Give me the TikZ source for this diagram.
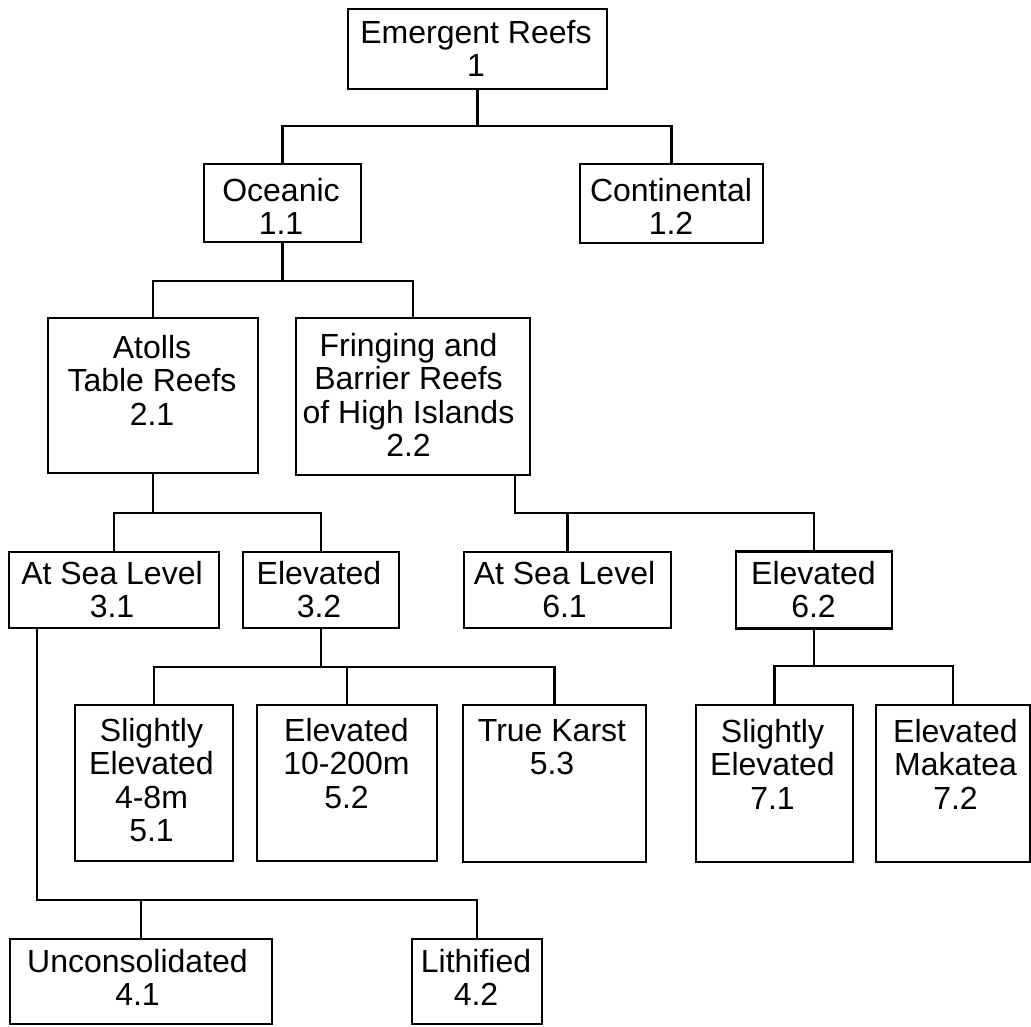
\documentclass[tikz,border=0pt]{standalone}
\usepackage{fontspec}
\setmainfont{Liberation Sans}
\usetikzlibrary{calc}
\begin{document}
\begin{tikzpicture}[x=1pt,y=-1pt,
  box/.style={draw=black, line width=2.6pt, fill=white, inner sep=0pt},
  txt/.style={font=\fontsize{32}{33.5}\selectfont, align=center, inner sep=0pt, anchor=north},
  conn/.style={draw=black, line width=2.6pt, line join=miter}]
\useasboundingbox (0,0) rectangle (1031,1026);
% boxes
\node[box, minimum width=259pt, minimum height=80pt] (r1) at (477.5,49) {};
\node[box, minimum width=157pt, minimum height=78pt] (oce) at (282.5,203) {};
\node[box, minimum width=183pt, minimum height=79pt] (cont) at (671.5,203.5) {};
\node[box, minimum width=210pt, minimum height=155pt] (at21) at (153,395.5) {};
\node[box, minimum width=234pt, minimum height=157pt] (fr22) at (413,396.5) {};
\node[box, minimum width=210pt, minimum height=76pt] (s31) at (114,590) {};
\node[box, minimum width=156pt, minimum height=76pt] (e32) at (321,590) {};
\node[box, minimum width=207pt, minimum height=76pt] (s61) at (567.5,590) {};
\node[box, minimum width=156pt, minimum height=77pt] (e62) at (814,590) {};
\node[box, minimum width=158pt, minimum height=156pt] (s51) at (154,783) {};
\node[box, minimum width=180pt, minimum height=156pt] (e52) at (347,783) {};
\node[box, minimum width=183pt, minimum height=157pt] (k53) at (554.5,783.5) {};
\node[box, minimum width=157pt, minimum height=157pt] (s71) at (774.5,783.5) {};
\node[box, minimum width=154pt, minimum height=157pt] (m72) at (953,783.5) {};
\node[box, minimum width=262pt, minimum height=85pt] (u41) at (141,981.5) {};
\node[box, minimum width=130pt, minimum height=85pt] (l42) at (477,981.5) {};
% texts
\node[txt] (r1t) at (476,20) {Emergent Reefs\\1};
\node[txt] (ocet) at (281,178) {Oceanic\\1.1};
\node[txt] (contt) at (671,178) {Continental\\1.2};
\node[txt] (at21t) at (152,335) {Atolls\\Table Reefs\\2.1};
\node[txt] (fr22t) at (408.5,333) {Fringing and\\Barrier Reefs\\of High Islands\\2.2};
\node[txt] (s31t) at (112,561) {At Sea Level\\3.1};
\node[txt] (e32t) at (319,561) {Elevated\\3.2};
\node[txt] (s61t) at (564.5,561) {At Sea Level\\6.1};
\node[txt] (e62t) at (813.5,561) {Elevated\\6.2};
\node[txt] (s51t) at (151.5,718) {Slightly\\Elevated\\4-8m\\5.1};
\node[txt] (e52t) at (346.5,718) {Elevated\\10-200m\\5.2};
\node[txt] (k53t) at (552,719) {True Karst\\5.3};
\node[txt] (s71t) at (772.5,719) {Slightly\\Elevated\\7.1};
\node[txt] (m72t) at (955.5,719) {Elevated\\Makatea\\7.2};
\node[txt] (u41t) at (137.5,949) {Unconsolidated\\4.1};
\node[txt] (l42t) at (476,949) {Lithified\\4.2};
% junctions
\coordinate (j1) at (477.5,126);
\coordinate (j2) at (282.5,281);
\coordinate (j3) at (153,513);
\coordinate (j6) at (515,513);
\coordinate (j5) at (321,667);
\coordinate (j7) at (814,666);
\coordinate (j4) at (37,900);
% connectors
\draw[conn] (r1.south) -- (j1);
\draw[conn] (oce.north) |- (j1) -| (cont.north);
\draw[conn] (oce.south) -- (j2);
\draw[conn] (at21.north) |- (j2) -| (fr22.north);
\draw[conn] (at21.south) -- (j3);
\draw[conn] (s31.north) |- (j3) -| (e32.north);
\draw[conn] (fr22.south -| j6) -- (j6) -| (e62.north);
\draw[conn] (s61.north) -- (s61.north |- j6);
\draw[conn] (e32.south) -- (j5);
\draw[conn] (s51.north) |- (j5) -| (k53.north);
\draw[conn] (e52.north) -- (e52.north |- j5);
\draw[conn] (e62.south) -- (j7);
\draw[conn] (s71.north) |- (j7) -| (m72.north);
\draw[conn] (s31.south -| j4) -- (j4) -| (l42.north);
\draw[conn] (u41.north) -- (u41.north |- j4);
\end{tikzpicture}
\end{document}
